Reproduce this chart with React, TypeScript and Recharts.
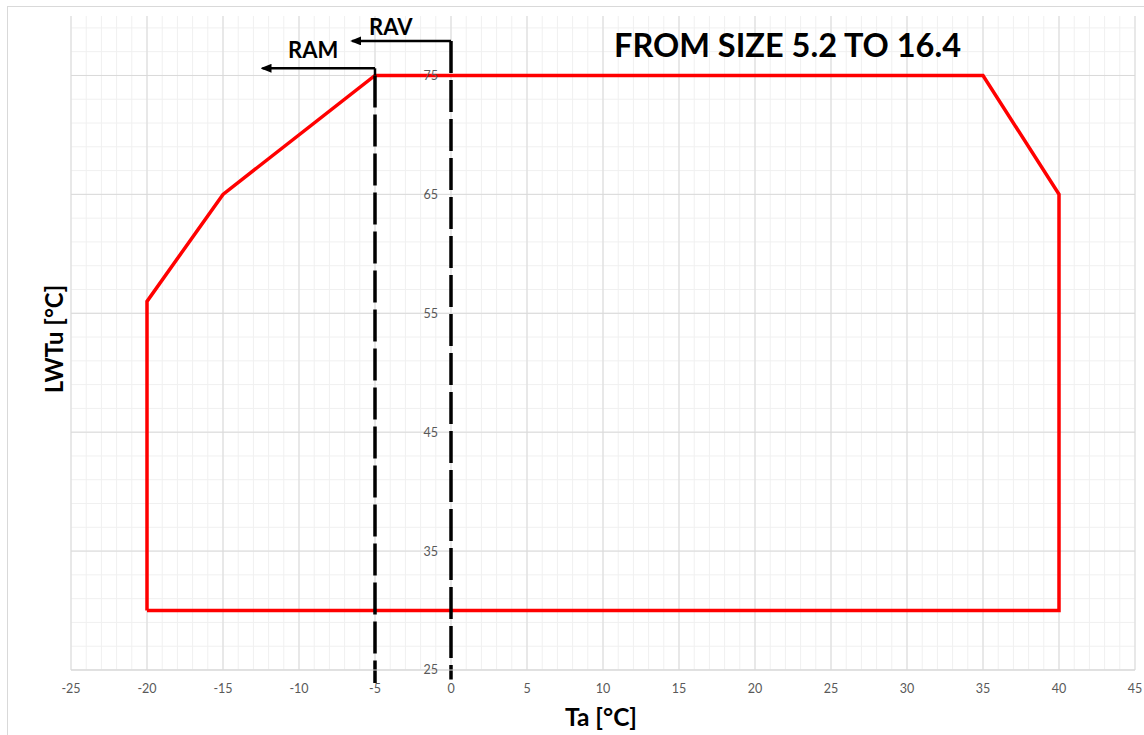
import { LineChart, Line, XAxis, YAxis, CartesianGrid, ReferenceLine, ReferenceDot, Customized } from "recharts";

// operating envelope (Ta, LWTu) – closed outline
const envelopeTa = [-20, -20, -15, -5, 35, 40, 40, -20];
const envelopeLwt = [30, 56, 65, 75, 75, 65, 30, 30];

const xTicks = [-25, -20, -15, -10, -5, 0, 5, 10, 15, 20, 25, 30, 35, 40, 45];
const yTicks = [25, 35, 45, 55, 65, 75];
const xMinor = [
  -25, -24, -23, -22, -21, -20, -19, -18, -17, -16, -15, -14, -13, -12, -11, -10, -9, -8, -7, -6, -5, -4, -3, -2, -1,
  0, 1, 2, 3, 4, 5, 6, 7, 8, 9, 10, 11, 12, 13, 14, 15, 16, 17, 18, 19, 20, 21, 22, 23, 24, 25, 26, 27, 28, 29, 30,
  31, 32, 33, 34, 35, 36, 37, 38, 39, 40, 41, 42, 43, 44, 45,
];
const yMinor = [25, 27, 29, 31, 33, 35, 37, 39, 41, 43, 45, 47, 49, 51, 53, 55, 57, 59, 61, 63, 65, 67, 69, 71, 73, 75, 77, 79];

// RAM / RAV limits: x position, top of dashed line, arrow height, arrow tip
const ramLimit = { ta: -5, top: 75, bottom: 23.9, arrowY: 75.6, tip: -12.4 };
const ravLimit = { ta: 0, top: 77.9, bottom: 24.2, arrowY: 77.9, tip: -6.5 };

const title = "FROM SIZE 5.2 TO 16.4";

const data = envelopeTa.map((ta, i) => ({ ta, lwt: envelopeLwt[i] }));

const font = "Lato, 'Open Sans', sans-serif";

const Extras = () => (
  <g>
    <defs>
      <marker id="arrowHead" markerWidth={11} markerHeight={9} refX={9} refY={4.5} orient="auto" markerUnits="userSpaceOnUse">
        <path d="M0,0 L11,4.5 L0,9 z" fill="#000" />
      </marker>
    </defs>
    <rect x={7.5} y={6.5} width={1150} height={740} fill="none" stroke="#d9d9d9" />
    <text x={614} y={57} fontFamily={font} fontWeight="bold" fontSize={32.5} fill="#000">{title}</text>
    <text x={369} y={35} fontFamily={font} fontWeight="bold" fontSize={22} fill="#000">RAV</text>
    <text x={288} y={58} fontFamily={font} fontWeight="bold" fontSize={22} fill="#000">RAM</text>
    <text x={601} y={726} textAnchor="middle" fontFamily={font} fontWeight="bold" fontSize={24.5} fill="#000">Ta [°C]</text>
    <text x={63} y={339} textAnchor="middle" transform="rotate(-90, 63, 339)" fontFamily={font} fontWeight="bold" fontSize={24} fill="#000">LWTu [°C]</text>
  </g>
);

export default function App() {
  return (
    <div style={{ position: "absolute", left: 0, top: 0, background: "#fff" }}>
      <LineChart width={1144} height={735} data={data} margin={{ top: 16, right: 9, bottom: 35, left: 71 }}>
        <CartesianGrid stroke="#f0f0f0" verticalValues={xMinor} horizontalValues={yMinor} />
        <CartesianGrid stroke="#d9d9d9" verticalValues={xTicks} horizontalValues={yTicks} />
        <XAxis
          type="number"
          dataKey="ta"
          domain={[-25, 45]}
          ticks={xTicks}
          interval={0}
          height={30}
          tickLine={false}
          tickSize={0}
          tickMargin={14}
          axisLine={{ stroke: "#d9d9d9" }}
          tick={{ fill: "#595959", fontSize: 12.5, fontFamily: font }}
        />
        <YAxis type="number" domain={[25, 80]} hide />
        <Line dataKey="lwt" stroke="#ff0000" strokeWidth={3.5} dot={false} isAnimationActive={false} />
        {yTicks.map((v) => (
          <ReferenceDot
            key={v}
            x={0}
            y={v}
            r={0}
            fill="none"
            stroke="none"
            label={{ value: v, position: "left", offset: 13, fill: "#595959", fontSize: 12.5, fontFamily: font }}
          />
        ))}
        {[ramLimit, ravLimit].map((l) => (
          <ReferenceLine
            key={`d${l.ta}`}
            segment={[{ x: l.ta, y: l.top }, { x: l.ta, y: l.bottom }]}
            stroke="#000"
            strokeWidth={3.5}
            strokeDasharray="32 7"
            ifOverflow="visible"
          />
        ))}
        <ReferenceLine segment={[{ x: ramLimit.ta, y: ramLimit.top }, { x: ramLimit.ta, y: ramLimit.arrowY }]} stroke="#000" strokeWidth={2.5} ifOverflow="visible" />
        {[ramLimit, ravLimit].map((l) => (
          <ReferenceLine
            key={`a${l.ta}`}
            segment={[{ x: l.ta, y: l.arrowY }, { x: l.tip, y: l.arrowY }]}
            stroke="#000"
            strokeWidth={2.5}
            markerEnd="url(#arrowHead)"
            ifOverflow="visible"
          />
        ))}
        <Customized component={<Extras />} />
      </LineChart>
    </div>
  );
}
